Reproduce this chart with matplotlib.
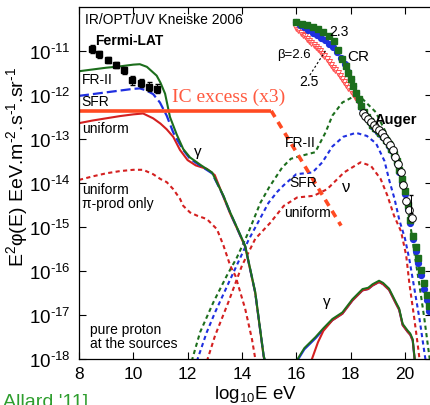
import numpy as np
import matplotlib
matplotlib.use("Agg")
import matplotlib.pyplot as plt

plt.rcParams['font.family'] = ['Liberation Sans', 'DejaVu Sans']
plt.rcParams['mathtext.fontset'] = 'custom'
plt.rcParams['mathtext.rm'] = 'Liberation Sans'
plt.rcParams['mathtext.it'] = 'Liberation Sans:italic'
plt.rcParams['mathtext.bf'] = 'Liberation Sans:bold'
plt.rcParams['mathtext.default'] = 'regular'

# ---------------- data (x = log10 E/eV, y = log10 E^2 phi) ----------------
fermi_x = [8.48, 8.74, 9.06, 9.35, 9.66, 9.94, 10.27, 10.57, 10.87]
fermi_y = [-10.95, -11.07, -11.20, -11.32, -11.44, -11.67, -11.73, -11.81, -11.86]
fermi_err = [0.09, 0.08, 0.07, 0.07, 0.08, 0.11, 0.09, 0.10, 0.10]

# low-energy gamma cascades
gam_fr2_x = [8.0, 8.5, 9.0, 9.5, 10.0, 10.24, 10.5, 10.86, 11.0, 11.17, 11.35, 11.6, 11.84,
             12.09, 12.5, 12.9, 13.08, 13.32, 13.57, 13.81, 14.12, 14.49, 14.80, 14.87]
gam_fr2_y = [-11.46, -11.42, -11.38, -11.35, -11.31, -11.30, -11.36, -11.56, -11.72, -11.97,
             -12.50, -12.90, -13.23, -13.42, -13.60, -13.76, -13.99, -14.29, -14.67, -15.00,
             -15.43, -16.48, -17.92, -18.10]
gam_sfr_x = [8.0, 8.5, 9.0, 9.5, 10.0, 10.24, 10.5, 10.73, 10.98, 11.23, 11.47, 11.6, 11.84,
             12.09, 12.5, 12.9, 13.08, 13.32, 13.57, 13.81, 14.12, 14.49, 14.80, 14.87]
gam_sfr_y = [-12.02, -11.98, -11.94, -11.90, -11.86, -11.85, -11.90, -11.98, -12.17, -12.47,
             -12.85, -13.00, -13.25, -13.45, -13.62, -13.78, -14.00, -14.30, -14.68, -15.01,
             -15.44, -16.49, -17.93, -18.10]
gam_uni_x = [8.0, 8.5, 9.0, 9.5, 10.0, 10.36, 10.73, 11.0, 11.23, 11.47, 11.72, 12.0, 12.3,
             12.71, 13.0, 13.32, 13.57, 13.81, 14.12, 14.49, 14.80, 14.87]
gam_uni_y = [-12.64, -12.58, -12.53, -12.48, -12.44, -12.42, -12.53, -12.65, -12.78, -12.95,
             -13.25, -13.48, -13.60, -13.68, -13.82, -14.32, -14.70, -15.02, -15.45, -16.50,
             -17.95, -18.10]
gam_pi_x = [8.0, 8.5, 9.0, 9.5, 10.0, 10.36, 10.73, 11.0, 11.23, 11.47, 11.72, 11.84, 12.09,
            12.34, 12.71, 13.08, 13.32, 13.57, 13.76, 14.12, 14.37, 14.52]
gam_pi_y = [-13.93, -13.85, -13.78, -13.73, -13.70, -13.70, -13.80, -13.91, -13.98, -14.14,
            -14.36, -14.52, -14.67, -14.74, -14.82, -15.05, -15.42, -15.88, -16.11, -16.86,
            -17.55, -18.10]

# high-energy gamma
gamh_x = [16.0, 16.3, 16.71, 17.0, 17.33, 17.70, 18.07, 18.44, 18.65, 18.81, 19.05, 19.2,
          19.42, 19.68, 19.79, 19.92, 20.1, 20.2, 20.29, 20.37]
gamh_y = [-18.05, -17.75, -17.50, -17.30, -17.09, -16.94, -16.64, -16.41, -16.38, -16.30,
          -16.22, -16.27, -16.40, -16.72, -16.85, -17.20, -17.35, -17.42, -17.55, -18.05]
gamh_uni_x = [16.55, 16.8, 17.0, 17.33, 17.70, 18.07, 18.44, 18.65, 18.81, 19.05, 19.2,
              19.42, 19.68, 19.79, 19.92, 20.1, 20.2, 20.29, 20.37]
gamh_uni_y = [-18.05, -17.62, -17.36, -17.12, -16.97, -16.67, -16.44, -16.41, -16.33,
              -16.25, -16.30, -16.43, -16.75, -16.88, -17.23, -17.38, -17.45, -17.58, -18.05]

# neutrinos
nu_fr2_x = [12.15, 12.46, 12.95, 13.44, 13.81, 14.24, 14.68, 15.0, 15.48, 15.8, 16.2, 16.7,
            17.08, 17.33, 17.70, 18.07, 18.44, 18.93, 19.30, 19.60, 19.88, 20.17, 20.35,
            20.54, 20.72, 20.85, 20.95]
nu_fr2_y = [-18.05, -17.39, -16.71, -16.11, -15.70, -15.12, -14.45, -14.10, -13.65, -13.45,
            -13.38, -13.30, -12.85, -12.47, -12.17, -12.05, -12.09, -12.39, -12.85, -13.25,
            -13.85, -14.82, -15.58, -16.33, -17.09, -17.70, -18.15]
nu_sfr_x = [12.34, 12.7, 13.01, 13.63, 14.24, 14.98, 15.3, 15.54, 16.0, 16.6, 16.96, 17.33,
            17.73, 18.2, 18.6, 18.94, 19.25, 19.43, 19.62, 19.8, 20.0, 20.17, 20.35, 20.54,
            20.72, 20.78]
nu_sfr_y = [-18.05, -17.40, -16.94, -16.11, -15.30, -14.45, -14.20, -14.05, -13.80, -13.76,
            -13.53, -13.17, -12.95, -12.86, -12.93, -13.10, -13.50, -13.95, -14.36, -14.85,
            -15.25, -15.75, -16.40, -17.09, -17.85, -18.10]
nu_uni_x = [12.71, 13.01, 13.5, 14.0, 14.49, 15.05, 15.54, 16.03, 16.65, 17.14, 17.76, 18.37,
            18.75, 19.11, 19.36, 19.6, 19.86, 20.05, 20.17, 20.35, 20.48, 20.56]
nu_uni_y = [-18.05, -17.47, -16.71, -15.88, -15.27, -14.90, -14.52, -14.33, -14.29, -14.14,
            -13.76, -13.53, -13.61, -13.91, -14.29, -14.74, -15.10, -15.65, -16.30, -17.09,
            -17.70, -18.10]

# IC excess (x3)
ic_x = [8.0, 15.08]
ic_y = [-12.36, -12.36]
ic_tail_x = [15.08, 17.65]
ic_tail_y = [-12.36, -14.97]

# cosmic-ray spectra
cr_fr2_x = [16.0, 16.2, 16.4, 16.6, 16.8, 17.0, 17.2, 17.4, 17.55, 17.7, 17.82, 17.92, 18.0,
            18.1, 18.2, 18.3, 18.4, 18.5, 18.6, 18.7, 18.8, 18.9, 19.0, 19.1, 19.2, 19.3, 19.4,
            19.5, 19.6, 19.7, 19.8, 19.9, 20.0, 20.1, 20.2, 20.3, 20.4, 20.5, 20.6, 20.7,
            20.8, 20.9]
cr_fr2_y = [-10.33, -10.38, -10.42, -10.46, -10.51, -10.57, -10.65, -10.78, -10.98, -11.18,
            -11.35, -11.50, -11.63, -11.80, -11.95, -12.10, -12.25, -12.38, -12.50, -12.60,
            -12.68, -12.75, -12.80, -12.86, -12.93, -13.02, -13.12, -13.22, -13.35, -13.50,
            -13.70, -13.92, -14.18, -14.50, -14.85, -15.20, -15.45, -15.70, -15.98, -16.28,
            -16.55, -16.80]
cr_sfr_x = [16.0, 16.15, 16.3, 16.45, 16.6, 16.75, 16.9, 17.05, 17.2, 17.35, 17.5, 17.65,
            17.8, 17.92, 18.0, 18.1, 18.2, 18.3, 18.4, 18.5, 18.6, 18.7, 18.8, 18.9, 19.0,
            19.1, 19.2, 19.3, 19.4, 19.5, 19.6, 19.7, 19.8, 19.9, 20.0, 20.1, 20.2, 20.3,
            20.4, 20.5, 20.6, 20.7, 20.8, 20.9]
cr_sfr_y = [-10.33, -10.40, -10.46, -10.52, -10.58, -10.64, -10.70, -10.76, -10.84, -10.92,
            -11.02, -11.15, -11.30, -11.48, -11.63, -11.80, -11.96, -12.12, -12.27, -12.40,
            -12.52, -12.62, -12.70, -12.77, -12.83, -12.89, -12.96, -13.05, -13.15, -13.26,
            -13.39, -13.55, -13.75, -13.98, -14.25, -14.58, -14.92, -15.28, -15.55, -15.82,
            -16.10, -16.40, -16.65, -16.90]
cr_b26_x = [16.0, 16.08, 16.16, 16.24, 16.32, 16.4, 16.48, 16.56, 16.64, 16.72, 16.8, 16.88,
            16.96, 17.04, 17.12, 17.2, 17.28, 17.36, 17.44, 17.52, 17.6, 17.68, 17.76, 17.84,
            17.92, 18.0, 18.08, 18.16, 18.24]
cr_b26_y = [-10.48, -10.53, -10.58, -10.63, -10.67, -10.72, -10.77, -10.82, -10.86, -10.91,
            -10.96, -11.01, -11.06, -11.12, -11.18, -11.25, -11.31, -11.38, -11.44, -11.50,
            -11.57, -11.64, -11.71, -11.78, -11.84, -11.90, -11.98, -12.05, -12.12]
auger_x = [18.45, 18.55, 18.65, 18.75, 18.85, 18.95, 19.05, 19.15, 19.25, 19.35, 19.45,
           19.55, 19.65, 19.75, 19.85, 19.95, 20.05, 20.15, 20.25]
auger_y = [-12.40, -12.48, -12.55, -12.62, -12.68, -12.74, -12.80, -12.87, -12.95, -13.04,
           -13.14, -13.26, -13.40, -13.56, -13.75, -14.05, -14.40, -14.62, -14.80]

x_ticks = [8, 10, 12, 14, 16, 18, 20]
y_tick_exps = [-18, -17, -16, -15, -14, -13, -12, -11]

GREEN = '#1c6e1c'
BLUE = '#1f2fe0'
RED = '#d42020'
ORANGE = '#ff4a22'

fig = plt.figure(figsize=(4.30, 4.06), dpi=100)
ax = fig.add_axes([79 / 430, 46 / 406, 353 / 430, 352 / 406])
ax.set_yscale('log')


def P(y):
    return 10.0 ** np.asarray(y)


short = (2.0, 1.6)
# neutrinos
ax.plot(nu_uni_x, P(nu_uni_y), color=RED, lw=1.5, dashes=short)
ax.plot(nu_sfr_x, P(nu_sfr_y), color=BLUE, lw=1.5, dashes=short)
ax.plot(nu_fr2_x, P(nu_fr2_y), color=GREEN, lw=1.5, dashes=short)
# pi-prod only
ax.plot(gam_pi_x, P(gam_pi_y), color=RED, lw=1.5, dashes=short)
# gamma
ax.plot(gam_uni_x, P(gam_uni_y), color=RED, lw=1.5)
ax.plot(gam_sfr_x, P(gam_sfr_y), color=BLUE, lw=1.6, dashes=(4.5, 1.8))
ax.plot(gam_fr2_x, P(gam_fr2_y), color=GREEN, lw=1.5)
ax.plot(gamh_x, P(np.array(gamh_y) - 0.03), color=BLUE, lw=1.5)
ax.plot(gamh_uni_x, P(gamh_uni_y), color=RED, lw=1.5)
ax.plot(gamh_x, P(gamh_y), color=GREEN, lw=1.4)

# IC excess
ax.plot(ic_x, P(ic_y), color=ORANGE, lw=2.6, solid_capstyle='butt')
ax.plot(ic_tail_x, P(ic_tail_y), color=ORANGE, lw=2.6, dashes=(2.0, 1.6))

# CR spectra
ax.plot(cr_b26_x, P(cr_b26_y), ls='none', marker='v', ms=4, mfc='none',
        mec='#ff5050', mew=0.7)
ax.plot(cr_sfr_x, P(cr_sfr_y), ls='none', marker='o', ms=4.2, color=BLUE, mec=BLUE)
ax.plot(cr_fr2_x, P(cr_fr2_y), ls='none', marker='s', ms=3.8, color=GREEN, mec=GREEN)
ax.plot(auger_x, P(auger_y), ls='none', marker='o', ms=5.5, mfc='white', mec='black',
        mew=0.7)
ax.errorbar([20.22], P([-14.48]), yerr=[[P(-14.48) - P(-14.68)], [P(-14.28) - P(-14.48)]],
            fmt='none', ecolor='black', elinewidth=0.7, capsize=1.5)

# Fermi-LAT
fy = P(fermi_y)
lo = fy - P(np.array(fermi_y) - np.array(fermi_err))
hi = P(np.array(fermi_y) + np.array(fermi_err)) - fy
ax.errorbar(fermi_x, fy, yerr=[lo, hi], fmt='s', ms=4.5, color='black', ecolor='black',
            elinewidth=0.8, capsize=1.8)

# leader line for 2.5
ax.plot([16.5, 17.1], P([-11.55, -10.97]), color='black', lw=0.8, dashes=(2, 2))

ax.set_xlim(8, 21)
ax.set_ylim(1e-18, 1e-10)
ax.set_xticks(x_ticks)
ax.set_xticklabels([str(t) for t in x_ticks])
ax.set_yticks([10.0 ** e for e in y_tick_exps])
ax.set_yticklabels([r'$10^{\text{-%d}}$' % (-e) for e in y_tick_exps])
ax.yaxis.set_minor_locator(matplotlib.ticker.NullLocator())
ax.tick_params(direction='in', length=5, width=0.8, top=True, right=True)
ax.tick_params(axis='x', labelsize=12.5, pad=5)
ax.tick_params(axis='y', labelsize=13.5, pad=6)
for s in ax.spines.values():
    s.set_linewidth(0.9)

ax.set_xlabel(r'log$_{10}$E eV', fontsize=13.5)
ax.set_ylabel(r'E$^2$φ(E) EeV.m$^{\text{-2}}$.s$^{\text{-1}}$.sr$^{\text{-1}}$', fontsize=14)
ax.xaxis.set_label_coords(0.5, -24 / 352)
ax.yaxis.set_label_coords(-49 / 353, 0.547)

T = dict(fontsize=10, va='center', ha='left')
ax.text(8.21, P(-10.27), 'IR/OPT/UV Kneiske 2006', **T)
ax.text(8.61, P(-10.75), 'Fermi-LAT', fontweight='bold', **T)
ax.text(8.1, P(-11.64), 'FR-II', **T)
ax.text(8.1, P(-12.14), 'SFR', **T)
ax.text(8.1, P(-12.75), 'uniform', **T)
ax.text(8.1, P(-14.14), 'uniform', **T)
ax.text(8.1, P(-14.45), 'π-prod only', **T)
ax.text(12.37, P(-13.27), 'γ', fontsize=11, ha='center', va='center')
ax.text(11.41, P(-12.02), 'IC excess (x3)', fontsize=14, color='#ff5a40',
        family='Liberation Serif', va='center', ha='left')
ax.text(15.31, P(-11.07), 'β=2.6', fontsize=9.5, va='center', ha='left')
ax.text(17.22, P(-10.55), '2.3', fontsize=10, va='center', ha='left')
ax.text(17.89, P(-11.11), 'CR', fontsize=11, va='center', ha='left')
ax.text(16.12, P(-11.68), '2.5', fontsize=10, va='center', ha='left')
ax.text(18.88, P(-12.55), 'Auger', fontsize=10.5, fontweight='bold', va='center', ha='left')
ax.text(15.57, P(-13.07), 'FR-II', **T)
ax.text(15.75, P(-13.98), 'SFR', **T)
ax.text(17.67, P(-14.07), 'ν', fontsize=12, va='center', ha='left')
ax.text(15.57, P(-14.66), 'uniform', **T)
ax.text(17.12, P(-16.68), 'γ', fontsize=11, ha='center', va='center')
ax.text(8.39, P(-17.32), 'pure proton', **T)
ax.text(8.39, P(-17.64), 'at the sources', **T)

fig.text(3 / 430, 1 - 394 / 406, "Allard '11]", color='#2e9e2e', fontsize=14,
         ha='left', va='top')

fig.savefig('out.png', dpi=100)
